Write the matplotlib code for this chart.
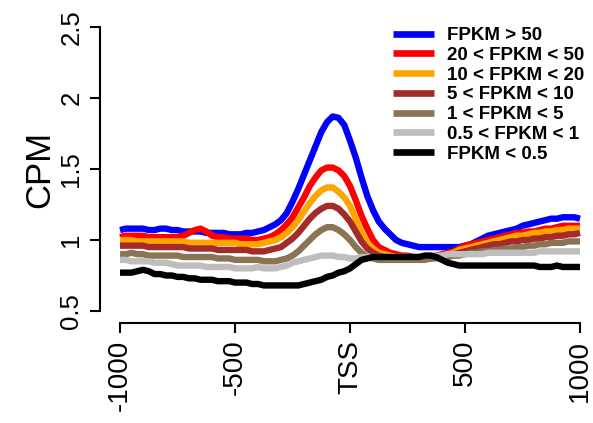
import numpy as np
import matplotlib
matplotlib.use("Agg")
from matplotlib import pyplot as plt

plt.rcParams['font.family'] = ['Liberation Sans', 'DejaVu Sans']

# positions relative to TSS (bp)
pos = np.arange(-1000, 1001, 25)

fpkm_gt50 = [1.07, 1.08, 1.08, 1.08, 1.08, 1.07, 1.07, 1.08, 1.08, 1.07,
             1.07, 1.06, 1.06, 1.06, 1.06, 1.05, 1.05, 1.05, 1.05, 1.04,
             1.04, 1.04, 1.05, 1.05, 1.06, 1.07, 1.09, 1.11, 1.14, 1.19,
             1.27, 1.36, 1.46, 1.56, 1.66, 1.76, 1.83, 1.87, 1.86, 1.81,
             1.70, 1.58, 1.44, 1.31, 1.21, 1.13, 1.08, 1.04, 1.00, 0.98,
             0.97, 0.96, 0.95, 0.95, 0.95, 0.95, 0.95, 0.95, 0.95, 0.95,
             0.96, 0.97, 0.99, 1.01, 1.03, 1.04, 1.05, 1.06, 1.07, 1.08,
             1.10, 1.11, 1.12, 1.13, 1.14, 1.15, 1.15, 1.16, 1.16, 1.16,
             1.15]
fpkm_20_50 = [1.02, 1.03, 1.03, 1.03, 1.03, 1.02, 1.02, 1.02, 1.02, 1.02,
              1.02, 1.03, 1.05, 1.07, 1.08, 1.06, 1.03, 1.02, 1.02, 1.01,
              1.01, 1.01, 1.01, 1.00, 1.00, 1.01, 1.02, 1.04, 1.07, 1.11,
              1.16, 1.23, 1.30, 1.38, 1.44, 1.49, 1.51, 1.51, 1.49, 1.45,
              1.38, 1.28, 1.17, 1.08, 1.00, 0.95, 0.93, 0.91, 0.90, 0.89,
              0.89, 0.88, 0.88, 0.88, 0.88, 0.89, 0.90, 0.91, 0.92, 0.94,
              0.96, 0.97, 0.98, 0.99, 1.00, 1.01, 1.02, 1.03, 1.04, 1.05,
              1.05, 1.06, 1.06, 1.07, 1.08, 1.08, 1.09, 1.10, 1.10, 1.10,
              1.10]
fpkm_10_20 = [1.00, 1.00, 1.00, 0.99, 0.99, 0.99, 0.99, 0.99, 0.99, 0.99,
              0.99, 0.99, 0.98, 0.98, 0.98, 0.98, 0.98, 0.98, 0.98, 0.98,
              0.98, 0.97, 0.97, 0.97, 0.97, 0.98, 0.99, 1.00, 1.02, 1.05,
              1.09, 1.14, 1.20, 1.26, 1.31, 1.35, 1.37, 1.37, 1.34, 1.30,
              1.24, 1.15, 1.05, 0.98, 0.94, 0.91, 0.90, 0.89, 0.88, 0.88,
              0.88, 0.87, 0.87, 0.87, 0.87, 0.88, 0.89, 0.90, 0.91, 0.93,
              0.94, 0.95, 0.96, 0.97, 0.98, 0.99, 1.00, 1.01, 1.02, 1.03,
              1.03, 1.04, 1.05, 1.05, 1.06, 1.06, 1.07, 1.07, 1.08, 1.08,
              1.08]
fpkm_5_10 = [0.96, 0.96, 0.96, 0.96, 0.96, 0.95, 0.95, 0.95, 0.95, 0.95,
             0.95, 0.95, 0.94, 0.94, 0.94, 0.94, 0.94, 0.93, 0.93, 0.93,
             0.93, 0.93, 0.93, 0.92, 0.92, 0.92, 0.93, 0.94, 0.95, 0.98,
             1.01, 1.05, 1.10, 1.15, 1.19, 1.22, 1.24, 1.24, 1.22, 1.18,
             1.13, 1.06, 0.99, 0.94, 0.91, 0.89, 0.88, 0.88, 0.87, 0.87,
             0.87, 0.87, 0.87, 0.87, 0.87, 0.88, 0.88, 0.89, 0.90, 0.91,
             0.92, 0.93, 0.94, 0.95, 0.96, 0.97, 0.97, 0.98, 0.99, 0.99,
             1.00, 1.00, 1.01, 1.01, 1.02, 1.02, 1.03, 1.03, 1.04, 1.04,
             1.05]
fpkm_1_5 = [0.90, 0.90, 0.91, 0.90, 0.90, 0.89, 0.89, 0.89, 0.89, 0.89,
            0.89, 0.88, 0.88, 0.88, 0.88, 0.88, 0.88, 0.87, 0.87, 0.87,
            0.86, 0.86, 0.86, 0.86, 0.86, 0.85, 0.85, 0.85, 0.86, 0.87,
            0.89, 0.92, 0.96, 1.00, 1.04, 1.07, 1.09, 1.09, 1.07, 1.04,
            1.00, 0.95, 0.91, 0.88, 0.87, 0.86, 0.86, 0.86, 0.86, 0.86,
            0.86, 0.86, 0.86, 0.86, 0.87, 0.87, 0.88, 0.88, 0.89, 0.89,
            0.90, 0.91, 0.91, 0.92, 0.92, 0.93, 0.93, 0.94, 0.94, 0.95,
            0.95, 0.96, 0.96, 0.97, 0.97, 0.98, 0.98, 0.98, 0.99, 0.99,
            0.99]
fpkm_05_1 = [0.86, 0.86, 0.85, 0.85, 0.85, 0.85, 0.84, 0.84, 0.84, 0.83,
             0.82, 0.82, 0.82, 0.82, 0.82, 0.81, 0.81, 0.81, 0.81, 0.81,
             0.80, 0.80, 0.80, 0.80, 0.81, 0.80, 0.80, 0.80, 0.81, 0.82,
             0.84, 0.85, 0.86, 0.87, 0.88, 0.89, 0.89, 0.89, 0.88, 0.88,
             0.87, 0.87, 0.88, 0.88, 0.88, 0.88, 0.88, 0.88, 0.88, 0.88,
             0.88, 0.88, 0.88, 0.89, 0.89, 0.89, 0.89, 0.90, 0.90, 0.90,
             0.90, 0.90, 0.90, 0.90, 0.91, 0.91, 0.91, 0.91, 0.91, 0.91,
             0.91, 0.91, 0.91, 0.92, 0.92, 0.92, 0.92, 0.92, 0.92, 0.92,
             0.92]
fpkm_lt05 = [0.77, 0.77, 0.77, 0.78, 0.79, 0.78, 0.76, 0.76, 0.75, 0.75,
             0.74, 0.74, 0.73, 0.73, 0.72, 0.72, 0.72, 0.71, 0.71, 0.71,
             0.70, 0.70, 0.70, 0.69, 0.69, 0.68, 0.68, 0.68, 0.68, 0.68,
             0.68, 0.68, 0.69, 0.70, 0.71, 0.72, 0.74, 0.75, 0.77, 0.78,
             0.80, 0.83, 0.86, 0.87, 0.88, 0.88, 0.88, 0.88, 0.88, 0.88,
             0.88, 0.88, 0.88, 0.89, 0.89, 0.88, 0.86, 0.84, 0.83, 0.82,
             0.82, 0.82, 0.82, 0.82, 0.82, 0.82, 0.82, 0.82, 0.82, 0.82,
             0.82, 0.82, 0.82, 0.81, 0.81, 0.81, 0.82, 0.81, 0.81, 0.81,
             0.81]

series = [fpkm_gt50, fpkm_20_50, fpkm_10_20, fpkm_5_10, fpkm_1_5, fpkm_05_1, fpkm_lt05]
labels = ['FPKM > 50', '20 < FPKM < 50', '10 < FPKM < 20', '5 < FPKM < 10',
          '1 < FPKM < 5', '0.5 < FPKM < 1', 'FPKM < 0.5']
colors = ['#0000FF', '#FF0000', '#FFA500', '#A52A2A', '#8B7355', '#BEBEBE', '#000000']

fig = plt.figure(figsize=(5.93, 4.23), dpi=100)
ax = fig.add_axes([0.2024, 0.2648, 0.7757, 0.6714])

for y, lab, c in zip(series, labels, colors):
    ax.plot(pos, y, color=c, lw=4.6, label=lab, clip_on=False, solid_capstyle='butt')

ax.set_xlim(-1000, 1000)
ax.set_ylim(0.5, 2.5)

for s in ['top', 'right']:
    ax.spines[s].set_visible(False)
ax.spines['left'].set_position(('outward', 14.4))
ax.spines['bottom'].set_position(('outward', 8.6))
ax.spines['left'].set_bounds(0.5, 2.5)
ax.spines['bottom'].set_bounds(-1000, 1000)
ax.spines['left'].set_linewidth(1.5)
ax.spines['bottom'].set_linewidth(1.5)

ax.set_yticks([0.5, 1, 1.5, 2, 2.5])
ax.set_yticklabels(['0.5', '1', '1.5', '2', '2.5'], rotation=90, va='center')
ax.set_xticks([-1000, -500, 0, 500, 1000])
ax.set_xticklabels(['-1000', '-500', 'TSS', '500', '1000'], rotation=90)
ax.tick_params(axis='both', length=7, width=1.5, color='black', pad=5)
ax.tick_params(axis='y', labelsize=18.5)
ax.tick_params(axis='x', labelsize=20)

ax.set_ylabel('CPM', fontsize=25, labelpad=2)

leg = ax.legend(loc='upper left', bbox_to_anchor=(393 / 593, 1 - 27 / 423),
                bbox_transform=fig.transFigure, frameon=False, borderpad=0,
                borderaxespad=0, handlelength=2.2, handletextpad=0.7,
                labelspacing=0.14, prop={'weight': 'bold', 'size': 13.5})
for line in leg.get_lines():
    line.set_linewidth(4.8)

fig.savefig('out.png', dpi=100)
